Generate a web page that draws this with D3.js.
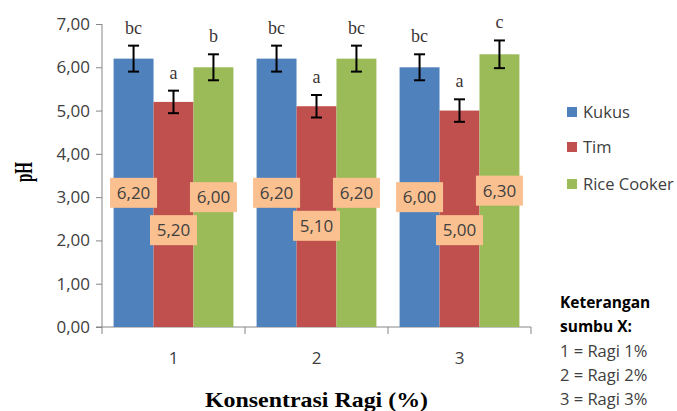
<!DOCTYPE html>
<html>
<head>
<meta charset="utf-8">
<script src="https://cdn.jsdelivr.net/npm/d3@7"></script>
<style>
  html, body { margin: 0; padding: 0; background: #fff; }
  svg { display: block; }
</style>
</head>
<body>
<svg id="chart" width="677" height="411"></svg>
<script>
// ---- data ----
const categories = ["1", "2", "3"];
const seriesNames = ["Kukus", "Tim", "Rice Cooker"];
const kukusValues = [6.20, 6.20, 6.00];
const timValues = [5.20, 5.10, 5.00];
const riceCookerValues = [6.00, 6.20, 6.30];
const kukusErrors = [0.30, 0.30, 0.30];
const timErrors = [0.26, 0.26, 0.26];
const riceCookerErrors = [0.30, 0.30, 0.32];
const kukusLetters = ["bc", "bc", "bc"];
const timLetters = ["a", "a", "a"];
const riceCookerLetters = ["b", "bc", "c"];
const yTicks = [0, 1, 2, 3, 4, 5, 6, 7];
const noteTitle = ["Keterangan", "sumbu X:"];
const noteLines = ["1 = Ragi 1%", "2 = Ragi 2%", "3 = Ragi 3%"];
const colors = ["#4F81BD", "#C0504D", "#9BBB59"];

const seriesValues = [kukusValues, timValues, riceCookerValues];
const seriesErrors = [kukusErrors, timErrors, riceCookerErrors];
const seriesLetters = [kukusLetters, timLetters, riceCookerLetters];

const svg = d3.select("#chart");
const plotLeft = 102, plotRight = 531, plotTop = 24, plotBottom = 327;
const axisColor = "#868686";
const textColor = "#404040";
const sans = "'Open Sans', 'Noto Sans', sans-serif";
const serif = "'Liberation Serif', 'DejaVu Serif', serif";

const x0 = d3.scaleBand().domain(categories).range([plotLeft, plotRight]).paddingInner(0).paddingOuter(0);
const x1 = d3.scaleBand().domain(seriesNames).range([0, x0.bandwidth()]).paddingInner(0).paddingOuter(0.29);
const y = d3.scaleLinear().domain([0, 7]).range([plotBottom, plotTop]);

const fmt = v => d3.format(".2f")(v).replace(".", ",");

// y axis
const yAxis = svg.append("g").attr("transform", `translate(${plotLeft},0)`)
  .call(d3.axisLeft(y).tickValues(yTicks).tickSize(6).tickPadding(6).tickFormat(fmt));
yAxis.select(".domain").attr("stroke", axisColor).attr("d", `M0,${plotBottom}V${plotTop}`);
yAxis.selectAll(".tick line").attr("stroke", axisColor);
yAxis.selectAll(".tick text").attr("fill", textColor).style("font-family", sans).style("font-size", "17px");

// x axis (labels centered, ticks at band boundaries)
const xAxis = svg.append("g").attr("transform", `translate(0,${plotBottom})`)
  .call(d3.axisBottom(x0).tickSize(0).tickPadding(25));
xAxis.select(".domain").attr("stroke", axisColor).attr("d", `M${plotLeft - 6},0H${plotRight}`);
xAxis.selectAll(".tick text").attr("fill", textColor).style("font-family", sans).style("font-size", "17px");
const boundaries = categories.map(c => x0(c)).concat([x0(categories[categories.length - 1]) + x0.bandwidth()]);
xAxis.selectAll("line.bnd").data(boundaries).join("line").attr("class", "bnd")
  .attr("x1", d => d).attr("x2", d => d).attr("y1", 0).attr("y2", 7).attr("stroke", axisColor);

// bars
const rows = [];
categories.forEach((c, ci) => {
  seriesNames.forEach((s, si) => {
    rows.push({ c, ci, s, si, v: seriesValues[si][ci], e: seriesErrors[si][ci], l: seriesLetters[si][ci] });
  });
});

svg.append("g").selectAll("rect").data(rows).join("rect")
  .attr("x", d => x0(d.c) + x1(d.s))
  .attr("y", d => y(d.v))
  .attr("width", x1.bandwidth())
  .attr("height", d => y(0) - y(d.v))
  .attr("fill", d => colors[d.si]);

// error bars
const eb = svg.append("g").attr("stroke", "#000").attr("stroke-width", 2);
rows.forEach(d => {
  const cx = x0(d.c) + x1(d.s) + x1.bandwidth() / 2;
  const y1 = y(d.v + d.e), y2 = y(d.v - d.e);
  eb.append("line").attr("x1", cx).attr("x2", cx).attr("y1", y1).attr("y2", y2);
  eb.append("line").attr("x1", cx - 5.5).attr("x2", cx + 5.5).attr("y1", y1).attr("y2", y1);
  eb.append("line").attr("x1", cx - 5.5).attr("x2", cx + 5.5).attr("y1", y2).attr("y2", y2);
});

// significance letters
svg.append("g").selectAll("text").data(rows).join("text")
  .attr("x", d => x0(d.c) + x1(d.s) + x1.bandwidth() / 2)
  .attr("y", d => y(d.v + d.e) - 12)
  .attr("text-anchor", "middle")
  .attr("fill", "#3d3535")
  .style("font-family", serif).style("font-size", "18px")
  .text(d => d.l);

// value labels with simple collision avoidance (larger values placed first)
const boxW = 47, boxH = 30, gap = 3;
const labelG = svg.append("g");
categories.forEach((c, ci) => {
  const items = rows.filter(r => r.ci === ci).map(r => {
    const cx = x0(r.c) + x1(r.s) + x1.bandwidth() / 2;
    return { r, cx, cy: y(r.v / 2) };
  }).sort((a, b) => b.r.v - a.r.v);
  const placed = [];
  items.forEach(it => {
    let cy = it.cy;
    placed.forEach(p => {
      const hOverlap = Math.abs(p.cx - it.cx) < boxW;
      const vOverlap = Math.abs(p.cy - cy) < boxH;
      if (hOverlap && vOverlap) cy = Math.max(cy, p.cy + boxH + gap);
    });
    it.cy = cy;
    placed.push(it);
  });
  items.forEach(it => {
    labelG.append("rect").attr("x", it.cx - boxW / 2).attr("y", it.cy - boxH / 2)
      .attr("width", boxW).attr("height", boxH).attr("fill", "#FAC090");
    labelG.append("text").attr("x", it.cx).attr("y", it.cy + 6)
      .attr("text-anchor", "middle").attr("fill", textColor)
      .style("font-family", sans).style("font-size", "17px")
      .text(fmt(it.r.v));
  });
});

// axis titles
svg.append("text").attr("transform", "translate(31.5,172) rotate(-90)")
  .attr("text-anchor", "middle").attr("fill", "#000")
  .attr("textLength", 20).attr("lengthAdjust", "spacingAndGlyphs")
  .style("font-family", serif).style("font-weight", "bold").style("font-size", "26px")
  .text("pH");
svg.append("text").attr("x", 205).attr("y", 406.5)
  .attr("fill", "#000")
  .attr("textLength", 223).attr("lengthAdjust", "spacingAndGlyphs")
  .style("font-family", serif).style("font-weight", "bold").style("font-size", "21px")
  .text("Konsentrasi Ragi (%)");

// legend
const legend = svg.append("g");
const legendY = [112, 147, 184];
seriesNames.forEach((s, i) => {
  legend.append("rect").attr("x", 567).attr("y", legendY[i] - 5).attr("width", 10).attr("height", 10).attr("fill", colors[i]);
  legend.append("text").attr("x", 583).attr("y", legendY[i] + 6).attr("fill", textColor)
    .style("font-family", sans).style("font-size", "16.5px").text(s);
});

// note
const note = svg.append("g").style("font-family", sans);
noteTitle.forEach((t, i) => {
  note.append("text").attr("x", 560).attr("y", 308 + i * 24).attr("fill", "#000")
    .style("font-weight", "bold").style("font-size", "15.5px").text(t);
});
noteLines.forEach((t, i) => {
  note.append("text").attr("x", 560).attr("y", 357 + i * 24).attr("fill", textColor)
    .style("font-size", "16.5px").text(t);
});
</script>
</body>
</html>
